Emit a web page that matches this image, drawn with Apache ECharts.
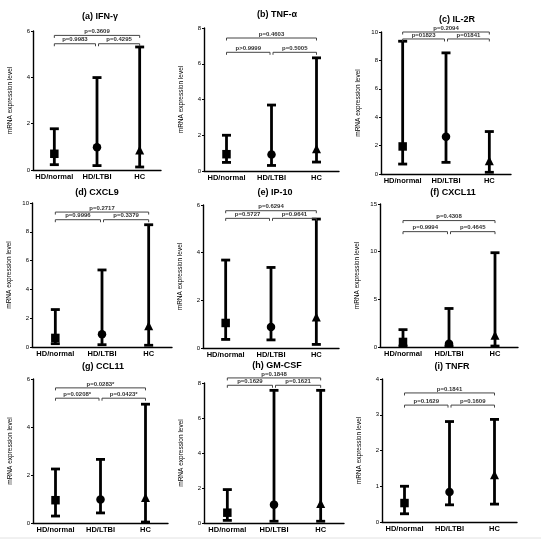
<!DOCTYPE html>
<html>
<head>
<meta charset="utf-8">
<script src="https://cdn.jsdelivr.net/npm/echarts/dist/echarts.min.js"></script>
<style>
  html, body { margin: 0; padding: 0; background: #fff; }
  #chart { width: 547px; height: 550px; }
</style>
</head>
<body>
<div id="chart"></div>
<script>
// groups on the x axis, one marker shape per group
const groups = ['HD/normal', 'HD/LTBI', 'HC'];
const markers = ['rect', 'circle', 'triangle'];

const panelTitles = ['(a) IFN-γ', '(b) TNF-α', '(c) IL-2R', '(d) CXCL9', '(e) IP-10',
  '(f) CXCL11', '(g) CCL11', '(h) GM-CSF', '(i) TNFR'];

// median, min and max per panel, in group order
const medians = [
  [0.70, 0.98, 0.86],
  [0.94, 0.92, 1.24],
  [1.94, 2.62, 0.93],
  [0.63, 0.88, 1.47],
  [1.05, 0.88, 1.30],
  [0.53, 0.35, 1.23],
  [0.95, 0.98, 1.06],
  [0.59, 1.05, 1.11],
  [0.53, 0.84, 1.32]
];
const mins = [
  [0.23, 0.19, 0.13],
  [0.48, 0.31, 0.50],
  [0.70, 0.82, 0.12],
  [0.23, 0.16, 0.12],
  [0.36, 0.34, 0.15],
  [0.10, 0.10, 0.10],
  [0.29, 0.42, 0.04],
  [0.15, 0.10, 0.10],
  [0.23, 0.48, 0.50]
];
const maxs = [
  [1.78, 3.99, 5.31],
  [2.00, 3.69, 6.33],
  [9.35, 8.53, 2.99],
  [2.60, 5.35, 8.49],
  [3.69, 3.38, 5.41],
  [1.82, 4.04, 9.89],
  [2.25, 2.65, 4.95],
  [1.91, 7.58, 7.58],
  [1.00, 2.81, 2.87]
];

// y axis ranges
const yMax = [6, 8, 10, 10, 6, 15, 6, 8, 4];
const yStep = [2, 2, 2, 2, 2, 5, 2, 2, 1];

// p values: HD/normal vs HC, HD/normal vs HD/LTBI, HD/LTBI vs HC
const pAll = ['p=0.3609', 'p=0.4603', 'p=0.2094', 'p=0.2717', 'p=0.6294',
  'p=0.4308', 'p=0.0283*', 'p=0.1848', 'p=0.1841'];
const pLeft = ['p=0.9983', 'p>0.9999', 'p=01823', 'p=0.9996', 'p=0.5727',
  'p=0.9994', 'p=0.0208*', 'p=0.1629', 'p=0.1629'];
const pRight = ['p=0.4295', 'p=0.5005', 'p=01841', 'p=0.3379', 'p=0.9641',
  'p=0.4645', 'p=0.0423*', 'p=0.1621', 'p=0.1609'];
// bracket heights in axis units
const bracketTop = [5.81, 7.44, 10.0, 9.37, 5.76, 13.26, 5.63, 8.29, 3.61];
const bracketLow = [5.45, 6.64, 9.51, 8.84, 5.44, 12.1, 5.20, 7.87, 3.27];

// layout of the 3x3 panels
const panels = [
  { left: 33, top: 31, width: 128, height: 139, tx: 100, ty: 17 },
  { left: 204, top: 28, width: 135, height: 143, tx: 277, ty: 15 },
  { left: 381, top: 32, width: 130, height: 142, tx: 457, ty: 20 },
  { left: 32, top: 203, width: 140, height: 144, tx: 97, ty: 193 },
  { left: 203, top: 205, width: 136, height: 143, tx: 275, ty: 193 },
  { left: 380, top: 204, width: 138, height: 143, tx: 453, ty: 193 },
  { left: 33, top: 379, width: 135, height: 144, tx: 103, ty: 367 },
  { left: 204, top: 383, width: 140, height: 140, tx: 277, ty: 366 },
  { left: 382, top: 379, width: 135, height: 143, tx: 452, ty: 367 }
];

const FONT = '"Liberation Sans", Arial, sans-serif';

function errorBar(params, api) {
  const x = api.value(0);
  const lo = api.coord([x, api.value(1)]);
  const hi = api.coord([x, api.value(2)]);
  const cap = 4.5;
  const st = { stroke: '#000', lineWidth: 2.8 };
  return {
    type: 'group',
    children: [
      { type: 'line', shape: { x1: lo[0], y1: lo[1], x2: hi[0], y2: hi[1] }, style: st },
      { type: 'line', shape: { x1: lo[0] - cap, y1: lo[1], x2: lo[0] + cap, y2: lo[1] }, style: st },
      { type: 'line', shape: { x1: hi[0] - cap, y1: hi[1], x2: hi[0] + cap, y2: hi[1] }, style: st }
    ]
  };
}

function bracketRenderer(labels) {
  return function (params, api) {
    const a = api.value(0), b = api.value(1), y = api.value(2);
    const p1 = api.coord([a, y]);
    const p2 = api.coord([b, y]);
    // small gap where the two lower brackets meet
    const x1 = p1[0] + (a === 1 ? 1.5 : 0);
    const x2 = p2[0] - (b === 1 ? 1.5 : 0);
    const yy = p1[1];
    const t = 2.5;
    return {
      type: 'group',
      children: [
        {
          type: 'polyline',
          shape: { points: [[x1, yy + t], [x1, yy], [x2, yy], [x2, yy + t]] },
          style: { stroke: '#444', lineWidth: 1, fill: null }
        },
        {
          type: 'text',
          style: {
            text: labels[params.dataIndex], x: (x1 + x2) / 2, y: yy - 1,
            align: 'center', verticalAlign: 'bottom',
            textAlign: 'center', textVerticalAlign: 'bottom',
            font: 'bold 6px ' + FONT, fill: '#333'
          }
        }
      ]
    };
  };
}

const chart = echarts.init(document.getElementById('chart'), null, { renderer: 'canvas' });

const grid = [], xAxis = [], yAxis = [], series = [], graphic = [];

panels.forEach((p, i) => {
  grid.push({ left: p.left, top: p.top, width: p.width, height: p.height });
  xAxis.push({
    type: 'category', gridIndex: i, data: groups, boundaryGap: true,
    axisLine: { lineStyle: { color: '#000', width: 1.4 } },
    axisTick: { alignWithLabel: true, length: 2, lineStyle: { color: '#000' } },
    axisLabel: { color: '#000', fontSize: 7.5, fontWeight: 'bold', fontFamily: FONT, margin: 3, interval: 0 }
  });
  yAxis.push({
    type: 'value', gridIndex: i, min: 0, max: yMax[i], interval: yStep[i],
    name: 'mRNA expression level', nameLocation: 'middle', nameGap: 19,
    nameTextStyle: { color: '#000', fontSize: 6.5, fontFamily: FONT },
    axisLine: { show: true, lineStyle: { color: '#000', width: 1.4 } },
    axisTick: { show: true, length: 2, lineStyle: { color: '#000' } },
    axisLabel: { color: '#000', fontSize: 6, fontFamily: FONT, margin: 3 },
    splitLine: { show: false }
  });

  series.push({
    type: 'custom', xAxisIndex: i, yAxisIndex: i, clip: false,
    renderItem: errorBar,
    data: groups.map((g, k) => [k, mins[i][k], maxs[i][k]]),
    z: 2
  });
  groups.forEach((g, k) => {
    series.push({
      type: 'scatter', xAxisIndex: i, yAxisIndex: i,
      symbol: markers[k], symbolSize: k === 2 ? 9 : 8.5,
      itemStyle: { color: '#000', opacity: 1 },
      data: [[k, medians[i][k]]],
      z: 3
    });
  });
  series.push({
    type: 'custom', xAxisIndex: i, yAxisIndex: i, clip: false,
    renderItem: bracketRenderer([pAll[i], pLeft[i], pRight[i]]),
    data: [[0, 2, bracketTop[i]], [0, 1, bracketLow[i]], [1, 2, bracketLow[i]]],
    z: 4
  });

  graphic.push({
    type: 'text', x: p.tx, y: p.ty,
    style: {
      text: panelTitles[i], font: 'bold 9px ' + FONT, fill: '#000',
      align: 'center', verticalAlign: 'middle',
      textAlign: 'center', textVerticalAlign: 'middle'
    }
  });
});

// faint rule under the figure
graphic.push({
  type: 'line', shape: { x1: 0, y1: 538, x2: 541, y2: 538 },
  style: { stroke: '#e2e2e2', lineWidth: 1 }
});

chart.setOption({
  animation: false,
  backgroundColor: '#fff',
  grid, xAxis, yAxis, series, graphic
});
</script>
</body>
</html>
